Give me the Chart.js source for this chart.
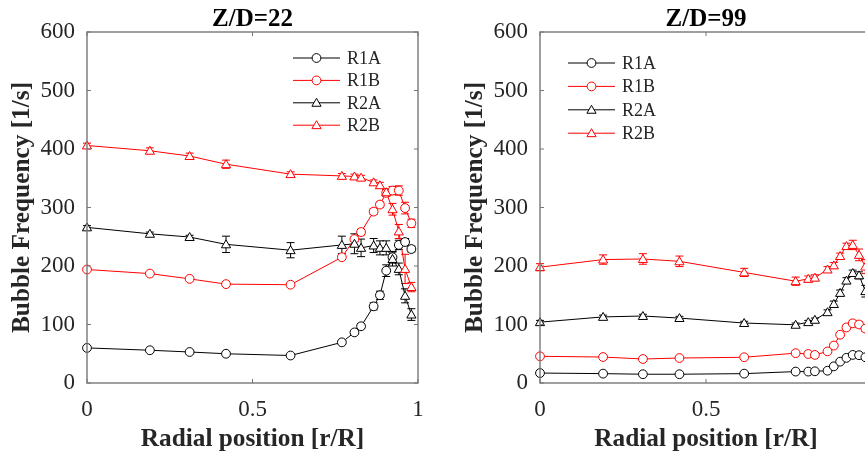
<!DOCTYPE html>
<html><head><meta charset="utf-8">
<script src="https://cdn.jsdelivr.net/npm/chart.js@4.4.1/dist/chart.umd.min.js"></script>
<style>
html,body{margin:0;padding:0;background:#fff;overflow:hidden;width:865px;height:452px;}
#w1{position:absolute;left:0;top:0;width:430px;height:452px;}
#w2{position:absolute;left:430px;top:0;width:435px;height:452px;overflow:hidden;}
</style></head><body>
<div id="w1"><canvas id="c1" width="430" height="452"></canvas></div>
<div id="w2"><canvas id="c2" width="450" height="452"></canvas></div>
<script>
// ---- data ----
const radialPos = [0, 0.19, 0.31, 0.42, 0.615, 0.77, 0.808, 0.828, 0.866, 0.885, 0.904, 0.923, 0.942, 0.961, 0.98];
const seriesNames = ['R1A', 'R1B', 'R2A', 'R2B'];
const xTicks = [0, 0.5, 1];
const yTicks = [0, 100, 200, 300, 400, 500, 600];

// Z/D = 22
const zd22_R1A = [60, 56, 53, 50, 47, 69.5, 86.5, 97, 131, 150, 192, 215, 236, 241, 229];
const zd22_R1B = [194, 187, 178, 169, 168, 215, 246, 258, 293, 305, 325, 329, 329, 299, 273];
const zd22_R2A = [266, 255, 249.5, 237, 227, 236, 238, 231, 235, 231, 231, 212, 195, 149, 117];
const zd22_R2B = [406, 397, 388, 374, 357, 354, 353, 351, 343, 338, 326, 297, 259, 195, 164];
const zd22_R1A_err = [2, 2, 2, 2, 2, 3, 3, 4, 6, 7, 10, 10, 8, 6, 5];
const zd22_R1B_err = [2, 2, 2, 2, 2, 3, 4, 5, 5, 5, 6, 7, 8, 10, 7];
const zd22_R2A_err = [3, 3, 3, 14, 13, 15, 17, 15, 12, 12, 12, 12, 10, 12, 10];
const zd22_R2B_err = [4, 5, 5, 7, 4, 4, 4, 4, 4, 5, 5, 10, 12, 25, 8];

// Z/D = 99
const zd99_R1A = [17, 16, 15, 15, 16, 19.5, 19.5, 20, 21, 28.5, 36.5, 43, 48, 47.5, 44];
const zd99_R1B = [45.6, 44.4, 41, 42.7, 44, 51, 49.6, 48, 54, 64, 82.5, 95, 102, 100, 93];
const zd99_R2A = [104, 113, 114.5, 111, 102.5, 99.5, 104, 108, 121, 135, 154, 175, 188, 184, 157];
const zd99_R2B = [198, 211, 212, 208, 189, 174, 178, 180, 194, 201, 217, 234, 236, 219, 199];
const zd99_R1A_err = [1, 1, 1, 1, 1, 1, 1, 1, 1, 2, 2, 2, 3, 3, 3];
const zd99_R1B_err = [2, 2, 2, 2, 2, 2, 2, 2, 2, 3, 3, 4, 5, 5, 5];
const zd99_R2A_err = [3, 3, 3, 3, 3, 3, 3, 3, 4, 5, 5, 5, 5, 6, 10];
const zd99_R2B_err = [6, 8, 9, 9, 7, 7, 5, 5, 5, 5, 5, 5, 8, 10, 12];

// ---- styling ----
const RED = '#ff0000', BLACK = '#000000', AXIS = '#777777', TXT = '#262626';
const SERIF = "'Liberation Serif', 'Times New Roman', serif";
const styles = [
  {color: BLACK, shape: 'circle'},
  {color: RED, shape: 'circle'},
  {color: BLACK, shape: 'triangle'},
  {color: RED, shape: 'triangle'}
];

function drawMarker(ctx, shape, x, y, color) {
  ctx.save();
  ctx.beginPath();
  if (shape === 'circle') {
    ctx.arc(x, y, 4.4, 0, Math.PI * 2);
  } else {
    const r = 5.3;
    for (let k = 0; k < 3; k++) {
      const a = k * 2 * Math.PI / 3;
      const px = x + Math.sin(a) * r, py = y - Math.cos(a) * r + 0.8;
      if (k === 0) ctx.moveTo(px, py); else ctx.lineTo(px, py);
    }
    ctx.closePath();
  }
  ctx.fillStyle = '#fff';
  ctx.fill();
  ctx.lineWidth = 1;
  ctx.strokeStyle = color;
  ctx.stroke();
  ctx.restore();
}

const errorBarPlugin = {
  id: 'errorBars',
  beforeDatasetsDraw(chart) {
    const ctx = chart.ctx, xs = chart.scales.x, ys = chart.scales.y;
    const errs = chart.options.plugins.errorBars.errs;
    chart.data.datasets.forEach((ds, di) => {
      ctx.save();
      ctx.strokeStyle = ds.borderColor;
      ctx.lineWidth = 1;
      ds.data.forEach((p, i) => {
        const e = errs[di][i];
        const x = xs.getPixelForValue(p.x);
        const y1 = ys.getPixelForValue(p.y - e), y2 = ys.getPixelForValue(p.y + e);
        ctx.beginPath();
        ctx.moveTo(x, y1); ctx.lineTo(x, y2);
        ctx.moveTo(x - 4, y1); ctx.lineTo(x + 4, y1);
        ctx.moveTo(x - 4, y2); ctx.lineTo(x + 4, y2);
        ctx.stroke();
      });
      ctx.restore();
    });
  },
  afterDatasetsDraw(chart) {
    const ctx = chart.ctx, xs = chart.scales.x, ys = chart.scales.y;
    chart.data.datasets.forEach((ds, di) => {
      ds.data.forEach(p => {
        drawMarker(ctx, styles[di].shape, xs.getPixelForValue(p.x), ys.getPixelForValue(p.y), ds.borderColor);
      });
    });
  }
};

const boxPlugin = {
  id: 'boxTicks',
  afterDraw(chart) {
    const ctx = chart.ctx, a = chart.chartArea, xs = chart.scales.x, ys = chart.scales.y;
    const L = 4;
    ctx.save();
    ctx.strokeStyle = AXIS;
    ctx.lineWidth = 1.4;
    ctx.strokeRect(a.left, a.top, a.right - a.left, a.bottom - a.top);
    ctx.lineWidth = 1;
    ctx.beginPath();
    xTicks.forEach(v => {
      const x = xs.getPixelForValue(v);
      ctx.moveTo(x, a.bottom); ctx.lineTo(x, a.bottom - L);
      ctx.moveTo(x, a.top); ctx.lineTo(x, a.top + L);
    });
    yTicks.forEach(v => {
      const y = ys.getPixelForValue(v);
      ctx.moveTo(a.left, y); ctx.lineTo(a.left + L, y);
      ctx.moveTo(a.right, y); ctx.lineTo(a.right - L, y);
    });
    ctx.stroke();
    // panel title
    const t = chart.options.plugins.panelTitle;
    ctx.fillStyle = '#000';
    ctx.font = 'bold 25px ' + SERIF;
    ctx.textAlign = 'center';
    ctx.textBaseline = 'alphabetic';
    ctx.fillText(t.text, (a.left + a.right) / 2, 26);
    // legend
    const lg = chart.options.plugins.panelLegend;
    ctx.font = '18px ' + SERIF;
    ctx.textAlign = 'left';
    ctx.textBaseline = 'middle';
    seriesNames.forEach((n, i) => {
      const y = lg.y0 + i * lg.dy;
      ctx.strokeStyle = styles[i].color;
      ctx.lineWidth = 1;
      ctx.beginPath(); ctx.moveTo(lg.x0, y); ctx.lineTo(lg.x1, y); ctx.stroke();
      drawMarker(ctx, styles[i].shape, (lg.x0 + lg.x1) / 2, y, styles[i].color);
      ctx.fillStyle = TXT;
      ctx.fillText(n, lg.tx, y + 1);
    });
    ctx.restore();
  }
};

function makeChart(id, title, series, errs, yWidth, padRight, legend) {
  const datasets = series.map((vals, i) => ({
    label: seriesNames[i],
    data: radialPos.map((x, k) => ({x, y: vals[k]})),
    borderColor: styles[i].color,
    backgroundColor: '#fff',
    borderWidth: 1,
    showLine: true,
    pointRadius: 0,
    pointHoverRadius: 0,
    tension: 0
  }));
  return new Chart(document.getElementById(id), {
    type: 'scatter',
    data: {datasets},
    plugins: [errorBarPlugin, boxPlugin],
    options: {
      responsive: false,
      animation: false,
      events: [],
      layout: {padding: {top: 32, right: padRight, left: 0, bottom: 0}},
      plugins: {
        legend: {display: false},
        tooltip: {enabled: false},
        errorBars: {errs},
        panelTitle: {text: title},
        panelLegend: legend
      },
      scales: {
        x: {
          type: 'linear', min: 0, max: 1,
          afterBuildTicks: s => { s.ticks = xTicks.map(v => ({value: v})); },
          afterFit: s => { s.height = 69; s.paddingLeft = 0; s.paddingRight = 0; },
          grid: {display: false, drawTicks: false},
          border: {display: false},
          ticks: {
            padding: 13, color: TXT,
            font: {family: SERIF, size: 23},
            callback: v => String(v)
          },
          title: {
            display: true, text: 'Radial position [r/R]', color: TXT,
            font: {family: SERIF, size: 25.3, weight: 'bold', lineHeight: 1},
            padding: {top: 0, bottom: 0}
          }
        },
        y: {
          type: 'linear', min: 0, max: 600,
          afterBuildTicks: s => { s.ticks = yTicks.map(v => ({value: v})); },
          afterFit: s => { s.width = yWidth; s.paddingTop = 0; s.paddingBottom = 0; },
          grid: {display: false, drawTicks: false},
          border: {display: false},
          ticks: {
            padding: 12, color: TXT,
            font: {family: SERIF, size: 23}
          },
          title: {
            display: true, text: 'Bubble Frequency [1/s]', color: TXT,
            font: {family: SERIF, size: 25.3, weight: 'bold', lineHeight: 1},
            padding: {top: yWidth - 77, bottom: 0}
          }
        }
      }
    }
  });
}

makeChart('c1', 'Z/D=22',
  [zd22_R1A, zd22_R1B, zd22_R2A, zd22_R2B],
  [zd22_R1A_err, zd22_R1B_err, zd22_R2A_err, zd22_R2B_err],
  87, 12, {x0: 293, x1: 340, tx: 347, y0: 58, dy: 22.4});
makeChart('c2', 'Z/D=99',
  [zd99_R1A, zd99_R1B, zd99_R2A, zd99_R2B],
  [zd99_R1A_err, zd99_R1B_err, zd99_R2A_err, zd99_R2B_err],
  110, 8, {x0: 138, x1: 185, tx: 192, y0: 63, dy: 23.4});
</script>
</body></html>
